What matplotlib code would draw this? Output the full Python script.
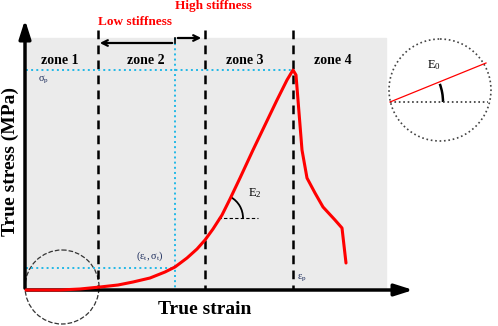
import numpy as np
import matplotlib
matplotlib.use("Agg")
from matplotlib import pyplot as plt
from matplotlib.patches import Circle, Arc, Rectangle

# schematic drawn in image pixel space (x right, y down)
curve_x = [26, 60, 80, 100, 118, 133, 150, 165, 175, 187, 197, 205, 213, 222, 230,
           240, 253, 265, 277, 287, 293,
           296, 298, 300, 302, 307, 315, 323, 335, 342, 346]
curve_y = [290, 290, 289, 287, 285, 282, 278, 272, 267, 258, 249, 240, 229, 215, 199,
           178, 150, 125, 100, 80, 70,
           75, 100, 125, 150, 178, 193, 207, 220, 228, 263]
zone_bounds = [98, 205, 293]
zone_names = ['zone 1', 'zone 2', 'zone 3', 'zone 4']
zone_centers = [60, 146, 245, 333]
eps_t, sig_t = 175, 268
sig_p = 70

plt.rcParams['font.family'] = ['Liberation Serif', 'DejaVu Serif']
fig = plt.figure(figsize=(4.98, 3.26), dpi=100)
ax = fig.add_axes([0, 0, 1, 1])
ax.set_xlim(0, 498)
ax.set_ylim(326, 0)
ax.axis('off')

# grey panel
ax.add_patch(Rectangle((26, 38), 360, 252, color='#ebebeb', zorder=0))

# axes arrows
ax.annotate('', xy=(25, 17), xytext=(25, 291),
            arrowprops=dict(arrowstyle='-|>,head_width=0.35,head_length=1.1', color='black', lw=2.5))
ax.annotate('', xy=(416, 290), xytext=(24, 290),
            arrowprops=dict(arrowstyle='-|>,head_width=0.35,head_length=1.1', color='black', lw=2.5))

# zone boundaries
for xb in zone_bounds:
    ax.plot([xb, xb], [30, 290], '--', color='black', lw=1.8, dashes=(3.5, 2.5))
for name, xc in zip(zone_names, zone_centers):
    ax.text(xc, 60, name, ha='center', va='center', fontsize=10, fontweight='bold')

# cyan guides
cy = dict(color='#22b8e6', lw=1.4, ls=':')
ax.plot([26, 293], [sig_p, sig_p], **cy)
ax.plot([26, eps_t], [sig_t, sig_t], **cy)
ax.plot([eps_t, eps_t], [38, 290], **cy)

# stiffness arrows
ax.annotate('', xy=(97, 43), xytext=(eps_t, 43),
            arrowprops=dict(arrowstyle='->', color='black', lw=1.6))
ax.annotate('', xy=(204, 38), xytext=(eps_t, 38),
            arrowprops=dict(arrowstyle='->', color='black', lw=1.6))
ax.plot([eps_t, eps_t], [38, 43], color='black', lw=1.2)
ax.text(98, 22, 'Low stiffness', color='red', fontsize=9.5, fontweight='bold', ha='left', va='center')
ax.text(175, 6, 'High stiffness', color='red', fontsize=9.5, fontweight='bold', ha='left', va='center')

# stress-strain curve
ax.plot(curve_x, curve_y, color='red', lw=2.2, solid_capstyle='round', solid_joinstyle='round', zorder=5)

# labels
ax.text(38, 80, r'$\mathregular{\sigma_p}$', fontsize=7.5, color='#1a2a5a', va='center')
ax.text(150, 256, r'$\mathregular{(\epsilon_t,\sigma_t)}$', fontsize=7.5, color='#1a2a5a', ha='center', va='center')
ax.text(302, 278, r'$\mathregular{\epsilon_p}$', fontsize=7.5, color='#1a2a5a', ha='center', va='center')

# E2 tangent sketch
ax.plot([218, 258], [218, 218], '--', color='black', lw=0.8, dashes=(3, 2))
ax.add_patch(Arc((219, 218), 48, 48, theta1=-60, theta2=0, color='black', lw=1.3))
ax.text(248, 193, r'$\mathregular{E_2}$', fontsize=9, va='center')

# small dashed circle at origin
ax.add_patch(Circle((62, 287), 37, fill=False, ls='--', lw=0.9, color='#333333'))

# inset circle with E0
ax.add_patch(Circle((440, 90), 51, fill=False, ls=':', lw=1.2, color='#444444'))
ax.plot([390, 488], [102, 102], ':', color='#333333', lw=1.2)
ax.plot([390, 486], [102, 63], color='red', lw=0.9)
ax.add_patch(Arc((390, 102), 106, 106, theta1=-20, theta2=0, color='black', lw=1.8))
ax.text(427, 65, r'$\mathregular{E_0}$', fontsize=9, va='center')

# axis titles
ax.text(10, 162, 'True stress (MPa)', rotation=90, fontsize=14, fontweight='bold', ha='center', va='center')
ax.text(205, 309, 'True strain', fontsize=14, fontweight='bold', ha='center', va='center')

fig.savefig('out.png', dpi=100)
